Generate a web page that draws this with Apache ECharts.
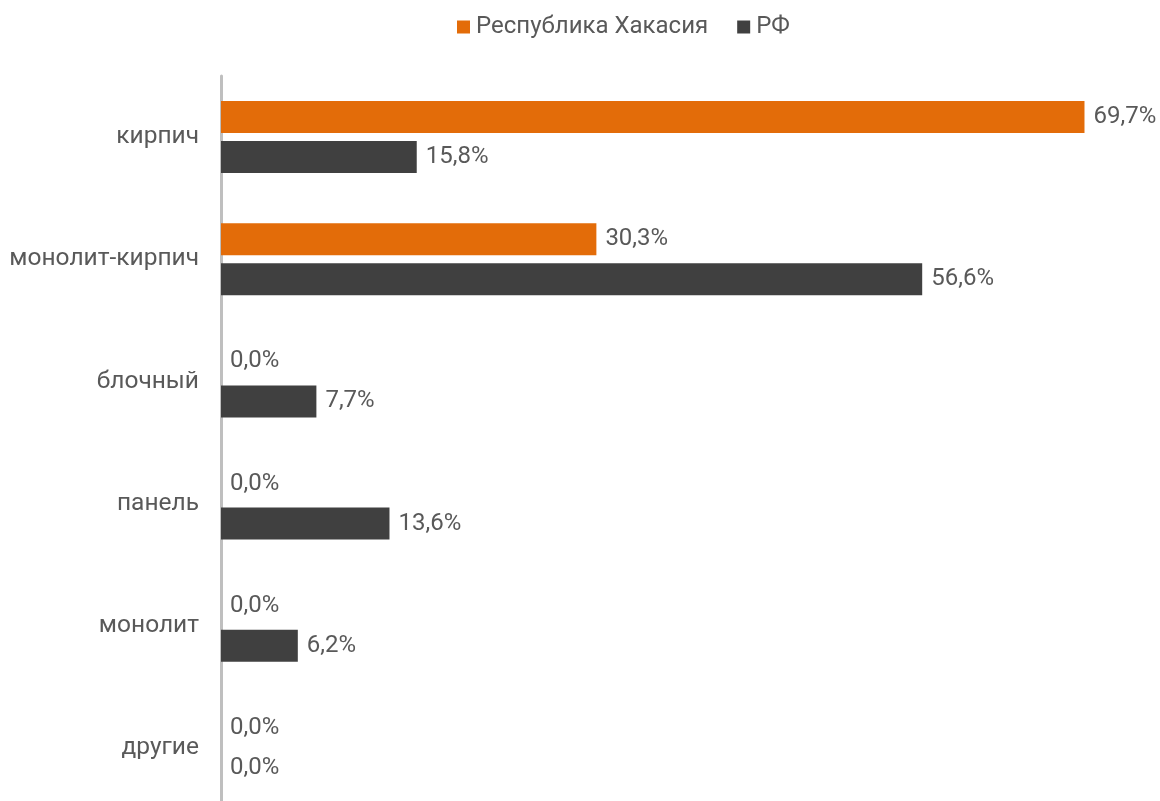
<!DOCTYPE html>
<html><head><meta charset="utf-8">
<script src="https://cdn.jsdelivr.net/npm/echarts@6/dist/echarts.min.js"></script>
<style>html,body{margin:0;padding:0;background:#fff}#c{width:1160px;height:801px}</style>
</head><body><div id="c"></div>
<script>
const categories = ['кирпич','монолит-кирпич','блочный','панель','монолит','другие'];
const seriesNames = ['Республика Хакасия','РФ'];
const khakasia = [69.7, 30.3, 0.0, 0.0, 0.0, 0.0];
const rf = [15.8, 56.6, 7.7, 13.6, 6.2, 0.0];
const colors = ['#E36C09', '#404040'];

const chart = echarts.init(document.getElementById('c'));
const fmt = p => p.value.toFixed(1).replace('.', ',') + '%';
const lbl = {show: true, position: 'right', distance: 9, color: '#595959', fontSize: 24, fontFamily: 'Roboto', formatter: fmt};
chart.setOption({
  animation: false,
  textStyle: {fontFamily: 'Roboto'},
  legend: {
    top: 10, left: 452, itemWidth: 13, itemHeight: 13, itemGap: 29,
    icon: 'rect',
    textStyle: {fontSize: 24, color: '#595959', fontFamily: 'Roboto', padding: [0, 0, 0, 1]},
    data: seriesNames
  },
  grid: {left: 221, width: 918, top: 76, height: 733, containLabel: false, outerBoundsMode: 'none'},
  xAxis: {type: 'value', min: 0, max: 74.1, show: false},
  yAxis: {
    type: 'category', data: categories, inverse: true,
    axisLine: {show: true, lineStyle: {color: '#BFBFBF', width: 3}},
    axisTick: {show: false},
    axisLabel: {fontSize: 24.5, color: '#595959', fontFamily: 'Roboto', margin: 22}
  },
  series: [
    {name: seriesNames[0], type: 'bar', data: khakasia, barWidth: 32, barGap: '25%', itemStyle: {color: colors[0]}, label: lbl},
    {name: seriesNames[1], type: 'bar', data: rf, barWidth: 32, barGap: '25%', itemStyle: {color: colors[1]}, label: lbl}
  ]
});
</script></body></html>
